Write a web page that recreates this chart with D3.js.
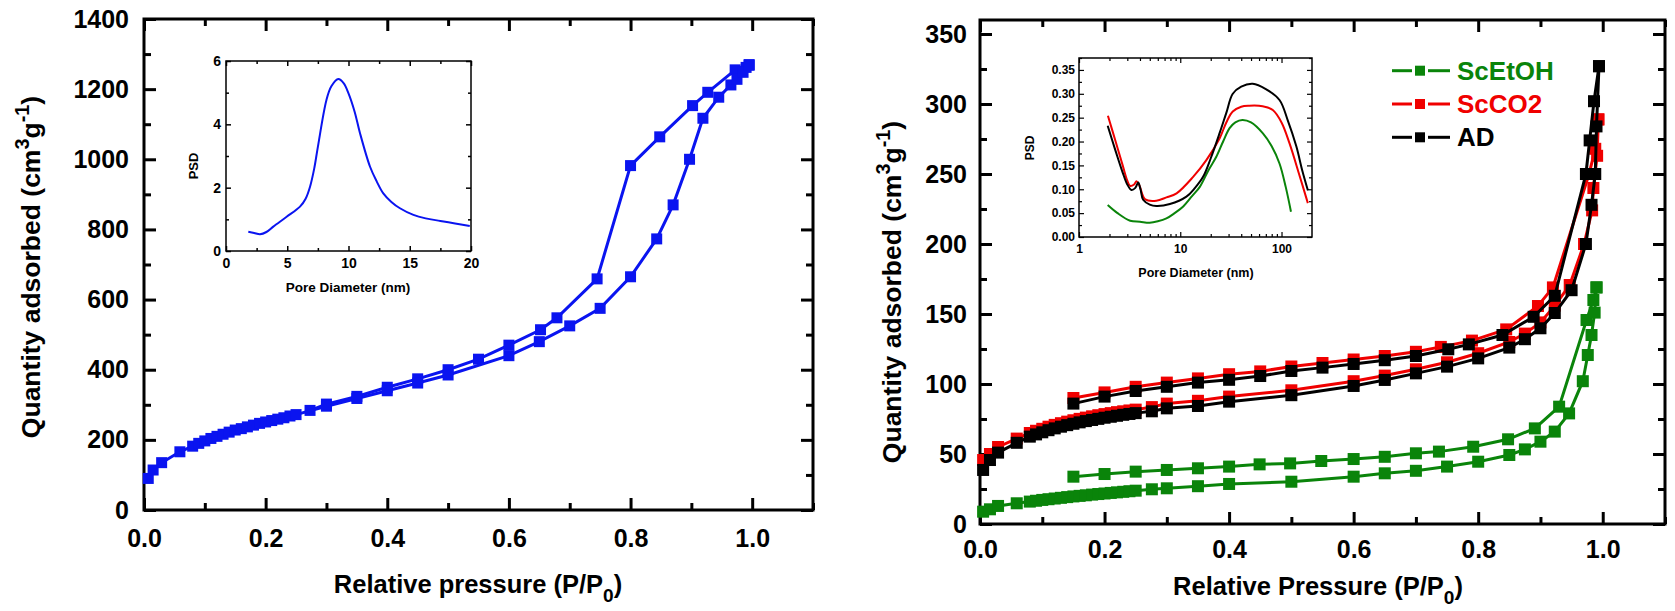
<!DOCTYPE html>
<html>
<head>
<meta charset="utf-8">
<script src="https://cdn.jsdelivr.net/npm/d3@7"></script>
<style>
  body { margin: 0; background: #fff; }
  svg { display: block; }
  text { font-family: "Liberation Sans", Arial, sans-serif; font-weight: bold; }
</style>
</head>
<body>
<svg id="chart" width="1675" height="611"></svg>
<script>
// ---- painel esquerdo: isotérmica (azul) ----
const leftAdsP = [0.007, 0.015, 0.029, 0.059, 0.08, 0.09, 0.10, 0.11, 0.12, 0.13, 0.14, 0.15, 0.16, 0.17, 0.18, 0.19, 0.20, 0.21, 0.22, 0.23, 0.24, 0.25, 0.30, 0.35, 0.40, 0.45, 0.50, 0.60, 0.65, 0.70, 0.75, 0.80, 0.843, 0.87, 0.897, 0.919, 0.945, 0.965, 0.975, 0.985, 0.995]
const leftAdsQ = [90, 114, 135, 166, 182, 190, 197, 204, 210, 216, 222, 228, 232, 237, 242, 247, 251, 255, 259, 263, 268, 272, 296, 318, 340, 362, 385, 440, 480, 525, 575, 665, 773, 870, 1000, 1117, 1177, 1212, 1228, 1248, 1268]
const leftDesP = [0.995, 0.99, 0.98, 0.972, 0.927, 0.902, 0.848, 0.80, 0.745, 0.679, 0.652, 0.60, 0.55, 0.50, 0.45, 0.40, 0.35, 0.30, 0.273]
const leftDesQ = [1270, 1262, 1250, 1255, 1191, 1153, 1064, 982, 659, 548, 514, 470, 430, 400, 374, 350, 324, 302, 284]

// distribuição de poros (inset esquerdo)
const leftPsdD = [1.82, 2.3, 2.78, 3.3, 3.86, 4.95, 6.04, 6.5, 6.86, 7.2, 7.5, 8.2, 8.6, 9.17, 9.6, 10.0, 10.5, 10.94, 11.76, 12.3, 12.84, 13.5, 14.2, 15.3, 16.3, 17.5, 18.7, 19.9]
const leftPsdV = [0.61, 0.57, 0.53, 0.6, 0.77, 1.08, 1.40, 1.65, 2.03, 2.6, 3.29, 4.77, 5.2, 5.43, 5.3, 4.98, 4.4, 3.72, 2.66, 2.2, 1.82, 1.55, 1.35, 1.14, 1.03, 0.95, 0.87, 0.79]

// ---- painel direito: ScEtOH, ScCO2, AD ----
const lowP = [0.005, 0.016, 0.029, 0.059, 0.08, 0.09, 0.10, 0.11, 0.12, 0.13, 0.14, 0.15, 0.16, 0.17, 0.18, 0.19, 0.20, 0.21, 0.22, 0.23, 0.24, 0.25, 0.276, 0.30, 0.35, 0.40, 0.50, 0.60, 0.65, 0.70, 0.75, 0.80, 0.85, 0.875, 0.90, 0.923]

const etohAdsP = lowP.concat([0.946, 0.968, 0.976, 0.982, 0.987, 0.99])
const etohAdsQ = [8.8, 10.5, 12.9, 14.8, 16, 16.6, 17.2, 17.7, 18.2, 18.7, 19.2, 19.7, 20.1, 20.5, 21, 21.4, 21.8, 22.2, 22.6, 23, 23.4, 23.8, 24.8, 25.5, 27, 28.6, 30.2, 33.8, 36.2, 38, 41, 44.5, 49.3, 53.3, 58.8, 66, 79, 102, 120.7, 135, 151, 169]
const etohDesP = [0.99, 0.985, 0.974, 0.93, 0.891, 0.848, 0.792, 0.737, 0.70, 0.65, 0.60, 0.548, 0.498, 0.449, 0.40, 0.35, 0.30, 0.25, 0.20, 0.15]
const etohDesQ = [169, 160, 145.7, 83.8, 68.3, 60.5, 55.2, 51.7, 50.5, 48, 46.4, 45, 43.3, 42.6, 41, 39.8, 38.6, 37.4, 35.7, 33.8]

const co2AdsP = lowP.concat([0.947, 0.97, 0.983, 0.985, 0.991, 0.993])
const co2AdsQ = [45.7, 50, 55, 61, 65, 66.6, 68, 69.5, 70.8, 72, 73.1, 74.1, 75.1, 76, 76.9, 77.7, 78.5, 79.2, 79.9, 80.5, 81.1, 81.7, 83.5, 86, 88, 91, 95.5, 102, 106, 110.5, 115.5, 122, 130, 136, 144, 156, 170.7, 200, 224, 240, 263, 289]
const co2DesP = [0.993, 0.988, 0.978, 0.92, 0.896, 0.845, 0.79, 0.74, 0.70, 0.65, 0.60, 0.55, 0.50, 0.45, 0.40, 0.35, 0.30, 0.25, 0.20, 0.15]
const co2DesQ = [289, 268, 250, 169, 155.7, 139, 131, 126.5, 123, 120, 117.5, 115, 112.5, 109, 107, 104, 101, 98, 94, 90]

const adAdsP = lowP.concat([0.95, 0.973, 0.982, 0.988, 0.99, 0.994])
const adAdsQ = [38.6, 45.7, 51, 58, 62.4, 64, 65.5, 67, 68.3, 69.5, 70.6, 71.6, 72.6, 73.5, 74.3, 75.1, 75.9, 76.6, 77.3, 78, 78.6, 79.2, 80.5, 82.6, 84.3, 87.4, 92, 98.6, 102.9, 107.6, 112.4, 118.3, 126, 132, 139.8, 150.7, 167, 200, 228, 250, 284, 327]
const adDesP = [0.994, 0.986, 0.979, 0.973, 0.923, 0.889, 0.839, 0.785, 0.752, 0.70, 0.65, 0.60, 0.55, 0.50, 0.45, 0.40, 0.35, 0.30, 0.25, 0.20, 0.15]
const adDesQ = [327, 302, 274, 250, 163, 148, 135, 128.3, 124.8, 120, 117, 114.3, 111.7, 109.3, 105.7, 103, 101, 98, 95, 91, 86]

// distribuição de poros (inset direito)
const etohPsdD = [1.92, 2.4, 3.2, 4, 5, 6, 7.3, 8.8, 10.7, 13, 15.6, 19, 22.7, 26.5, 30.7, 35, 41, 50, 65.5, 80, 95.5, 110, 124]
const etohPsdV = [0.067, 0.05, 0.034, 0.032, 0.030, 0.033, 0.039, 0.05, 0.064, 0.085, 0.105, 0.14, 0.168, 0.2, 0.228, 0.24, 0.245, 0.24, 0.217, 0.19, 0.154, 0.105, 0.053]
const co2PsdD = [1.93, 2.3, 2.7, 3.0, 3.2, 3.5, 3.7, 3.95, 4.5, 5.8, 7.3, 9.2, 13.4, 18.1, 24.5, 28.5, 33, 40, 48, 65, 82, 100, 120, 150, 182]
const co2PsdV = [0.254, 0.2, 0.15, 0.118, 0.107, 0.11, 0.117, 0.108, 0.079, 0.076, 0.083, 0.0915, 0.126, 0.161, 0.207, 0.24, 0.263, 0.273, 0.275, 0.274, 0.266, 0.24, 0.196, 0.13, 0.071]
const adPsdD = [1.92, 2.3, 2.7, 3.0, 3.3, 3.6, 3.84, 4.05, 4.3, 5.0, 5.8, 7.9, 11.5, 14, 16.8, 20, 24.5, 28.5, 33, 40, 52, 70, 95.5, 115, 140, 160, 182]
const adPsdV = [0.233, 0.18, 0.135, 0.11, 0.0985, 0.103, 0.114, 0.1, 0.078, 0.068, 0.065, 0.069, 0.0845, 0.103, 0.126, 0.165, 0.218, 0.26, 0.30, 0.315, 0.321, 0.31, 0.287, 0.245, 0.19, 0.14, 0.098]

const seriesNames = ["ScEtOH", "ScCO2", "AD"]
const seriesColors = ["#0a840a", "#f00000", "#000000"]
const blue = "#0a14f0"

const svg = d3.select("#chart")
svg.append("rect").attr("width", 1675).attr("height", 611).attr("fill", "#fff")

const zip = (a, b) => a.map((v, i) => [v, b[i]])

// eixos com marcas para dentro nos quatro lados
function drawAxes(x, y, o) {
    const [xa, xb] = x.range()
    const [yb, ya] = y.range()
    const g = svg.append("g")

    const sides = [
        { ax: d3.axisBottom, sc: x, t: `translate(0,${yb})`, maj: o.xMaj, min: o.xMin, lab: true, fmt: o.xFmt, pad: o.xPad },
        { ax: d3.axisTop, sc: x, t: `translate(0,${ya})`, maj: o.xMaj, min: o.xMin, lab: false },
        { ax: d3.axisLeft, sc: y, t: `translate(${xa},0)`, maj: o.yMaj, min: o.yMin, lab: true, fmt: o.yFmt, pad: o.yPad },
        { ax: d3.axisRight, sc: y, t: `translate(${xb},0)`, maj: o.yMaj, min: o.yMin, lab: false }
    ]
    sides.forEach(s => {
        const a = g.append("g").attr("transform", s.t)
            .call(s.ax(s.sc).tickValues(s.maj).tickSize(-o.big)
                .tickPadding(s.lab ? s.pad : 0)
                .tickFormat(s.lab ? s.fmt : ""))
        a.attr("font-family", null).attr("font-size", o.fs)
        a.select(".domain").remove()
        a.selectAll("line").attr("stroke", "#000").attr("stroke-width", o.tw)
        a.selectAll("text").attr("fill", "#000")
        const m = g.append("g").attr("transform", s.t)
            .call(s.ax(s.sc).tickValues(s.min).tickSize(-o.small).tickFormat(""))
        m.select(".domain").remove()
        m.selectAll("line").attr("stroke", "#000").attr("stroke-width", o.tw)
    })

    g.append("rect")
        .attr("x", xa).attr("y", ya)
        .attr("width", xb - xa).attr("height", yb - ya)
        .attr("fill", "none").attr("stroke", "#000").attr("stroke-width", o.fw)
    return g
}

function drawSeries(x, y, P, Q, color, size) {
    const line = d3.line().x(d => x(d[0])).y(d => y(d[1]))
    const pts = zip(P, Q)
    svg.append("path").datum(pts)
        .attr("d", line).attr("fill", "none")
        .attr("stroke", color).attr("stroke-width", 3)
    svg.append("g").selectAll("rect").data(pts).join("rect")
        .attr("x", d => x(d[0]) - size / 2)
        .attr("y", d => y(d[1]) - size / 2)
        .attr("width", size).attr("height", size)
        .attr("fill", color)
}

function drawCurve(x, y, D, V, color) {
    svg.append("path").datum(zip(D, V))
        .attr("d", d3.line().curve(d3.curveCatmullRom).x(d => x(d[0])).y(d => y(d[1])))
        .attr("fill", "none").attr("stroke", color).attr("stroke-width", 2)
}

function yTitle(cx, cy, size) {
    const t = svg.append("text")
        .attr("transform", `translate(${cx},${cy}) rotate(-90)`)
        .attr("text-anchor", "middle").attr("font-size", size)
    t.append("tspan").text("Quantity adsorbed (cm")
    t.append("tspan").text("3").attr("font-size", size * 0.75).attr("dy", -size * 0.42)
    t.append("tspan").text("g").attr("dy", size * 0.42)
    t.append("tspan").text("-1").attr("font-size", size * 0.75).attr("dy", -size * 0.42)
    t.append("tspan").text(")").attr("dy", size * 0.42)
}

function xTitle(cx, by, label, size) {
    const t = svg.append("text")
        .attr("x", cx).attr("y", by)
        .attr("text-anchor", "middle").attr("font-size", size)
    t.append("tspan").text(label + " (P/P")
    t.append("tspan").text("0").attr("font-size", size * 0.75).attr("dy", size * 0.35)
    t.append("tspan").text(")").attr("dy", -size * 0.35)
}

const fmt1 = d3.format(".1f")
const range = (a, b, s) => d3.range(a, b + s / 2, s).map(v => +v.toFixed(4))

// ===================== painel esquerdo =====================
const xL = d3.scaleLinear().domain([0, 1.1]).range([144, 813])
const yL = d3.scaleLinear().domain([0, 1400]).range([510, 19])

drawAxes(xL, yL, {
    xMaj: range(0, 1.0, 0.2), xMin: range(0.1, 1.1, 0.2), xFmt: fmt1, xPad: 19,
    yMaj: range(0, 1400, 200), yMin: range(100, 1300, 200), yFmt: d3.format("d"), yPad: 15,
    big: 12, small: 7, tw: 3, fw: 3, fs: 25
})
drawSeries(xL, yL, leftDesP, leftDesQ, blue, 11)
drawSeries(xL, yL, leftAdsP, leftAdsQ, blue, 11)

yTitle(40, 267, 26.5)
xTitle(478, 593, "Relative pressure", 25.5)

// inset esquerdo
const xLi = d3.scaleLinear().domain([0, 20]).range([226, 471])
const yLi = d3.scaleLinear().domain([0, 6]).range([251, 61])
svg.append("rect").attr("x", 226).attr("y", 61).attr("width", 245).attr("height", 190).attr("fill", "#fff")
drawAxes(xLi, yLi, {
    xMaj: range(0, 20, 5), xMin: range(2.5, 17.5, 5), xFmt: d3.format("d"), xPad: 7,
    yMaj: range(0, 6, 2), yMin: range(1, 5, 2), yFmt: d3.format("d"), yPad: 5,
    big: 5, small: 3, tw: 1.5, fw: 1.5, fs: 14
})
drawCurve(xLi, yLi, leftPsdD, leftPsdV, blue)
svg.append("text").attr("transform", "translate(198,166) rotate(-90)")
    .attr("text-anchor", "middle").attr("font-size", 13).text("PSD")
svg.append("text").attr("x", 348).attr("y", 292)
    .attr("text-anchor", "middle").attr("font-size", 13.5).text("Pore Diameter (nm)")

// ===================== painel direito =====================
const xR = d3.scaleLinear().domain([0, 1.1]).range([980, 1665])
const yR = d3.scaleLinear().domain([0, 360]).range([524, 20])

drawAxes(xR, yR, {
    xMaj: range(0, 1.0, 0.2), xMin: range(0.1, 1.1, 0.2), xFmt: fmt1, xPad: 16,
    yMaj: range(0, 350, 50), yMin: range(25, 350, 50), yFmt: d3.format("d"), yPad: 13,
    big: 12, small: 7, tw: 3, fw: 3, fs: 25
})
drawSeries(xR, yR, etohDesP, etohDesQ, seriesColors[0], 12)
drawSeries(xR, yR, etohAdsP, etohAdsQ, seriesColors[0], 12)
drawSeries(xR, yR, co2DesP, co2DesQ, seriesColors[1], 12)
drawSeries(xR, yR, co2AdsP, co2AdsQ, seriesColors[1], 12)
drawSeries(xR, yR, adDesP, adDesQ, seriesColors[2], 12)
drawSeries(xR, yR, adAdsP, adAdsQ, seriesColors[2], 12)

yTitle(901, 292, 26.5)
xTitle(1318, 595, "Relative Pressure", 25.5)

// legenda
const legY = [70.7, 104, 137.3]
seriesNames.forEach((name, i) => {
    const lg = svg.append("g")
    lg.append("line").attr("x1", 1392).attr("x2", 1412).attr("y1", legY[i]).attr("y2", legY[i])
        .attr("stroke", seriesColors[i]).attr("stroke-width", 3)
    lg.append("line").attr("x1", 1428).attr("x2", 1450).attr("y1", legY[i]).attr("y2", legY[i])
        .attr("stroke", seriesColors[i]).attr("stroke-width", 3)
    lg.append("rect").attr("x", 1415).attr("y", legY[i] - 5).attr("width", 10).attr("height", 10)
        .attr("fill", seriesColors[i])
    lg.append("text").attr("x", 1457).attr("y", legY[i] + 9)
        .attr("font-size", 26).attr("fill", seriesColors[i]).text(name)
})

// inset direito (escala log)
const xRi = d3.scaleLog().domain([1, 200]).range([1079, 1312])
const yRi = d3.scaleLinear().domain([0, 0.375]).range([237, 58])
svg.append("rect").attr("x", 1079).attr("y", 58).attr("width", 233).attr("height", 179).attr("fill", "#fff")
const logMinor = [2, 3, 4, 5, 6, 7, 8, 9, 20, 30, 40, 50, 60, 70, 80, 90]
drawAxes(xRi, yRi, {
    xMaj: [1, 10, 100], xMin: logMinor, xFmt: d3.format("d"), xPad: 7,
    yMaj: range(0, 0.35, 0.05), yMin: range(0.025, 0.375, 0.05), yFmt: d3.format(".2f"), yPad: 4,
    big: 5, small: 3, tw: 1.2, fw: 1.5, fs: 12
})
drawCurve(xRi, yRi, etohPsdD, etohPsdV, seriesColors[0])
drawCurve(xRi, yRi, co2PsdD, co2PsdV, seriesColors[1])
drawCurve(xRi, yRi, adPsdD, adPsdV, seriesColors[2])
svg.append("text").attr("transform", "translate(1034,148) rotate(-90)")
    .attr("text-anchor", "middle").attr("font-size", 12).text("PSD")
svg.append("text").attr("x", 1196).attr("y", 277)
    .attr("text-anchor", "middle").attr("font-size", 12.5).text("Pore Diameter (nm)")
</script>
</body>
</html>
